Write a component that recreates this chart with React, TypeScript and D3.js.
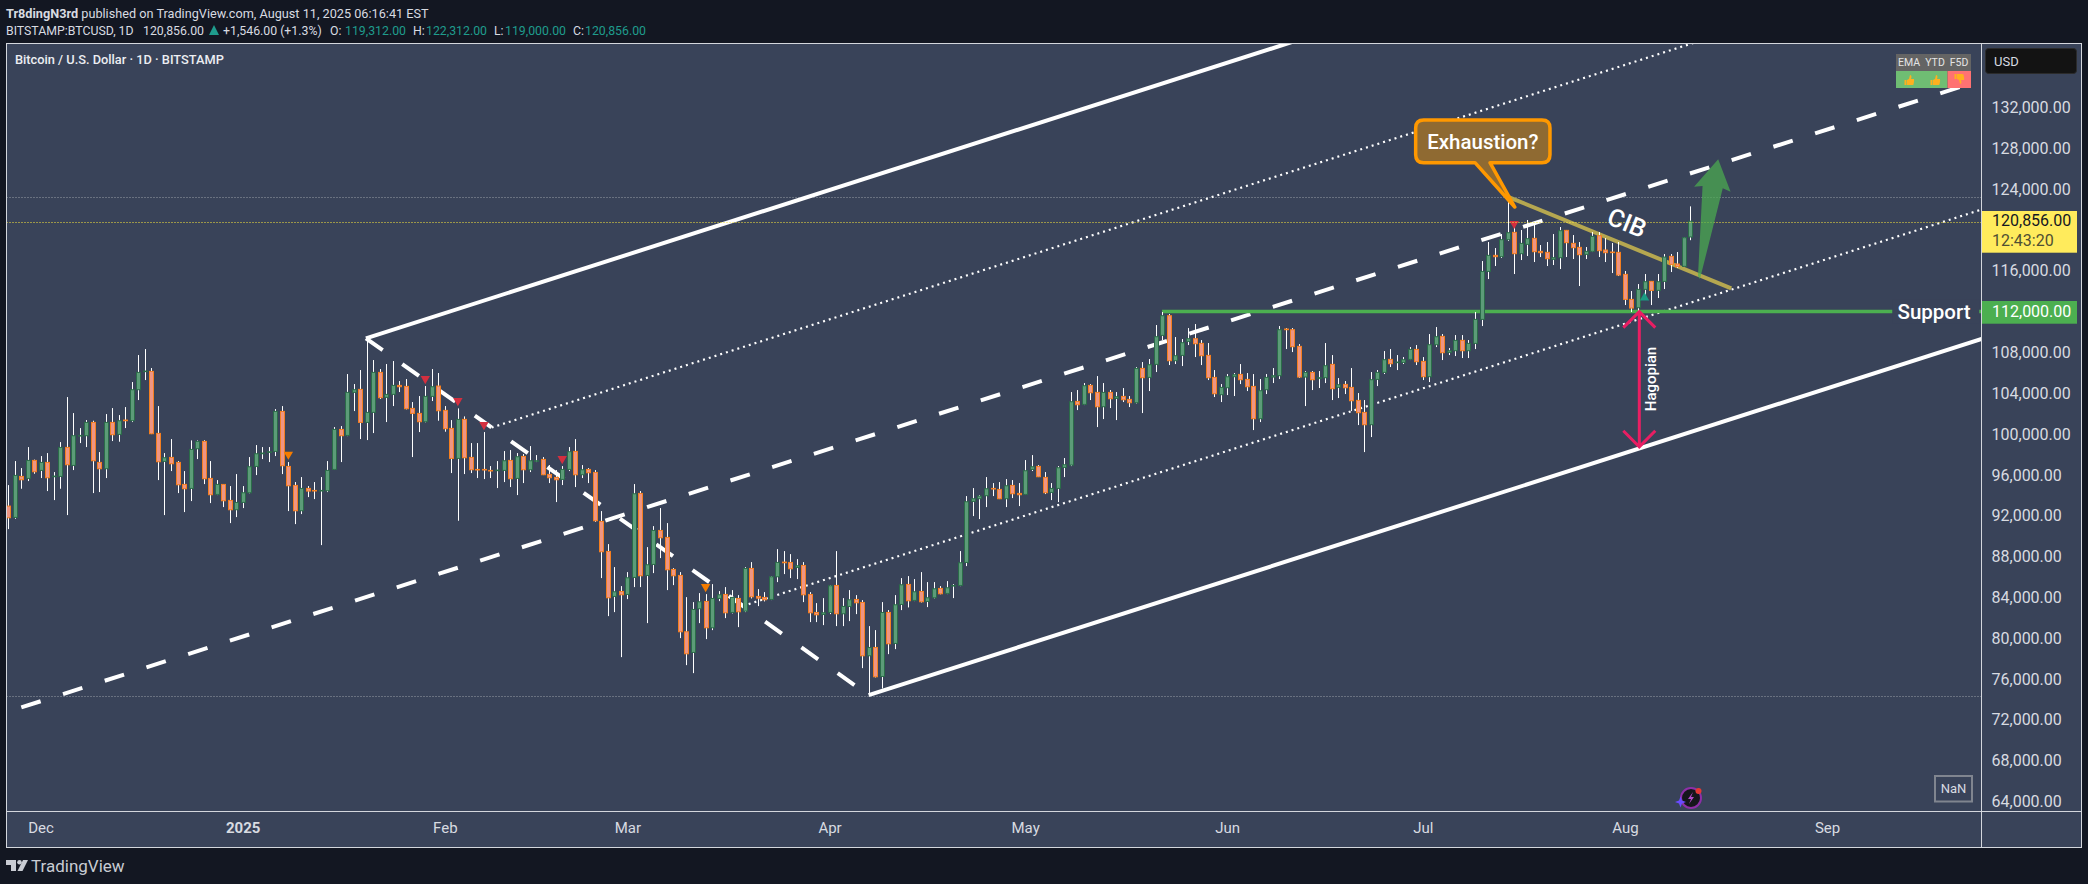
import { useEffect, useRef } from "react";
import * as d3 from "d3";

// daily candles, index 0 = Nov 26 2024, index 258 = Aug 11 2025
const opens = [
  92945,91835,95853,95657,97421,96441,97225,95820,95853,98695,
  96931,99806,99839,101145,97225,96604,101145,99970,101374,101309,
  104347,106144,106144,100067,97323,97715,97225,95069,94677,98564,
  99283,95657,94089,95069,93501,92586,93305,94252,96833,98074,
  98205,98303,102223,96833,94971,92488,94677,94481,94448,94448,
  96539,100459,99871,104086,104380,101145,102126,106046,103596,103890,
  104772,104674,102518,102028,101211,103694,104707,102322,100557,97617,
  101440,97715,96539,96539,96441,96441,96441,97421,95657,97813,
  96506,97356,97519,96049,95755,95559,96539,98303,96017,96539,
  96245,91443,88502,84092,84582,84288,85954,94187,86150,87228,
  90560,89875,86738,86150,80629,78604,82883,83602,81021,83896,
  84288,82524,83896,82654,86836,84092,83994,83798,86019,87457,
  87424,86934,87130,84288,82524,82328,82524,85170,82393,83112,
  83798,83504,78277,79094,76251,82524,79486,83308,85269,83701,
  84582,83602,83962,84877,84387,85138,85170,87425,93403,93665,
  93959,94677,94579,93665,94971,94187,94090,96540,96834,95756,
  94285,94677,96736,96963,103203,102909,104771,104085,102680,104085,
  103497,103693,103399,103072,106437,105555,106830,109672,111599,107189,
  107712,109084,109345,108888,107712,105555,103857,104543,105621,105849,
  105359,104673,101504,104347,105588,105719,110293,110227,108594,105588,
  106045,105490,105523,106830,104575,104869,104575,103301,102125,100917,
  105359,106045,107320,107025,107025,107320,108299,107123,105621,108757,
  109574,108006,108169,109182,108169,108886,111239,115943,117512,117381,
  119047,119766,117675,118590,119178,117904,117806,117120,117283,119962,
  118688,118296,117610,117904,119439,118034,117838,117806,115650,113199,
  112383,114179,114963,114081,114963,117414,116662,116434,119312,
];
const highs = [
  95003,97356,96670,98728,97500,97846,98140,96278,99218,103628,
  102060,100590,101374,101309,98238,101962,102550,101864,102648,105099,
  107745,108333,106471,102746,98140,99512,97356,96375,99381,99381,
  99400,97356,95493,95100,94906,96081,94906,97748,98924,98728,
  98728,102452,102746,97258,95298,95788,94906,95298,95788,97356,
  100688,100786,105883,104902,106275,109215,107255,106373,106863,107157,
  105197,105392,103138,103726,104707,106373,105981,102746,101374,102518,
  101734,99120,99120,100198,96866,97356,98336,98434,98140,98042,
  98826,97944,97748,96964,96474,96866,98728,99512,96964,96670,
  96474,92456,89221,86967,85105,86477,95102,94416,88927,90985,
  92749,91280,86869,86477,84026,83536,84419,84320,85300,84615,
  85007,84713,84222,86967,87457,84811,84516,86085,88731,88535,
  88241,87751,87457,84516,83439,83929,85203,88535,83929,84713,
  84222,83733,81185,80793,83537,82753,84223,85889,86085,85791,
  86477,85497,85497,85105,85595,85301,88536,93926,94710,94024,
  95788,95200,95298,95592,95494,95200,97454,97944,96964,96278,
  95200,96866,97651,104118,104314,105000,104902,105686,105000,104314,
  104118,104510,103726,106568,107058,107352,110685,111959,111763,109508,
  109312,110391,110783,109214,108920,106274,104902,105882,105980,106862,
  105980,105882,105392,105882,106470,110586,110390,110390,108822,106176,
  106176,106176,108920,107744,105490,105196,106470,104020,103334,106078,
  106274,108136,108332,107744,107548,108528,108724,107548,109802,110488,
  109802,108430,109704,109704,109214,111958,116956,118819,118230,119602,
  123196,120583,119995,120975,120681,118524,118818,119602,120289,120000,
  119504,118819,118328,119798,119798,119210,118720,118819,115976,114016,
  114702,115682,114996,115682,117642,117642,117838,119276,122312,
];
const lows = [
  90691,91700,94644,95396,96114,95690,94416,93534,94644,92064,
  96474,99120,98728,94219,94317,95690,99316,99251,100590,101178,
  103334,105295,100000,95493,92064,96375,94219,92357,93436,97552,
  95101,93239,94023,92847,91279,91867,92749,94200,95984,97552,
  97258,97846,96081,92455,91181,92161,93828,93631,89123,94317,
  96500,97258,99800,102256,99512,99414,100100,103432,101178,102746,
  104118,102420,97748,100198,101150,103237,101309,100231,96180,91508,
  96082,96180,95690,95592,95690,94710,95298,94808,94024,95200,
  96278,97258,95984,95200,93338,95004,96376,94808,95690,95200,
  91400,85889,82165,82556,78146,83831,85007,85007,81478,86379,
  87849,84713,85202,80008,77362,76578,81478,79910,80792,83634,
  81968,82426,81087,82556,83896,83144,83602,83733,85497,86281,
  85889,85791,83536,81576,81576,81282,82360,81184,81184,81674,
  82360,77068,74422,76153,75075,78440,78931,82753,83014,83635,
  83500,83047,83900,84300,84321,83929,85100,87065,91966,91672,
  92848,93926,93632,92848,93730,92946,94057,96376,95788,94122,
  93534,93338,95788,96865,102354,102844,103334,100687,101471,102550,
  101374,103138,102648,103000,102060,104216,106078,109214,106764,106862,
  106666,108724,107548,106764,105294,103628,103138,103824,103726,104902,
  104216,100394,101178,103922,105000,105392,108332,108038,105500,102746,
  104314,104510,105000,103334,103530,103922,102256,100884,98237,99708,
  104706,105882,106568,106274,106862,107254,106764,105294,105098,108528,
  107254,107744,107646,107450,107450,108331,110586,115192,116466,117250,
  118916,115682,117054,117446,116858,117348,116466,116564,116172,117348,
  117152,114506,117152,117838,117348,116858,115780,115486,112644,111958,
  111958,113624,112644,113330,114212,115878,116270,116401,119000,
];
const closes = [
  91802,95951,95526,97421,96310,97225,95722,95886,98695,96996,
  99839,99871,101145,97388,96604,101145,99937,101309,101309,104347,
  106046,106177,100035,97290,97683,97094,95036,94644,98499,99283,
  95625,94056,95069,93468,92586,93305,94252,96800,98074,98140,
  98270,102223,96898,94938,92488,94677,94416,94448,94481,96441,
  100459,99839,104086,104347,101145,102126,106046,103563,103890,104772,
  104641,102485,102028,101211,103694,104641,102289,100525,97617,101440,
  97683,96506,96506,96506,96408,96474,97389,95624,97781,96506,
  97389,97389,96017,95723,95526,96539,98271,96017,96506,96212,
  91508,88470,83962,84549,84255,85921,94154,86118,87196,90560,
  89842,86706,86118,80629,78473,82818,83569,81021,83896,84255,
  82491,83994,82589,86836,84059,83928,83765,86019,87424,87392,
  86803,87097,84255,82491,82295,82491,85137,82393,83112,83765,
  83471,78276,79094,76219,82524,79454,83275,85236,83668,84550,
  83570,83962,84844,84354,84942,85170,87392,93371,93665,93926,
  94645,94645,93665,94939,94155,94057,96409,96801,95821,94253,
  94677,96703,96997,103170,102877,104738,104053,102680,104085,103464,
  103661,103366,103072,106437,105523,106797,109541,111599,107189,107679,
  108953,109345,108855,107679,105523,103954,104575,105621,105817,105327,
  104640,101504,104249,105555,105719,110227,110227,108561,105588,106045,
  105327,105523,106699,104445,104837,104542,103268,102093,100917,105327,
  106045,107287,106895,107058,107287,108299,107091,105621,108757,109541,
  107973,108169,109182,108169,108888,111239,115943,117512,117381,119047,
  119733,117675,118688,119145,117871,117773,117185,117283,119929,118753,
  118263,117577,117904,119374,117969,117773,117806,115584,113199,112350,
  114179,114931,114081,114931,117348,116629,116401,119243,120856,
];

// 120,000 and 112,000 sit under the price badges, so they get no tick of their own
const priceTicks = [132000,128000,124000,116000,108000,104000,100000,96000,92000,88000,84000,80000,76000,72000,68000,64000];
const monthIdx = [5, 36, 67, 95, 126, 156, 187, 217, 248, 279];
const monthLabels = ["Dec", "2025", "Feb", "Mar", "Apr", "May", "Jun", "Jul", "Aug", "Sep"];

// chart drawings, [candle index, price]
const forkTop: [number, number] = [54.9, 109382];
const forkBottom: [number, number] = [132, 74425];
const cibLine: [number, number][] = [[230.26, 123200], [264.3, 114282]];
const supportLine: [number, number][] = [[177, 112000], [302.8, 112000]];
const hagopian: [number, number][] = [[250.2, 112000], [250.2, 98757]];
const greenArrow: [number, number][] = [
  [259.2, 115487], [259.9, 124307], [258.6, 124238], [262.3, 126924],
  [264.2, 123748], [263.0, 124081], [259.5, 115193],
];
const calloutBox: [number, number][] = [[215.9, 130775], [236.5, 126591]];
const calloutTail: [number, number][] = [[225, 126591], [231.1, 122249], [227.3, 126591]];
const redMarks: [number, number][] = [[64, 105422], [69, 103266], [73, 100915], [85, 97583], [231, 120613]];
const orangeMarks: [number, number][] = [[43, 98014], [107, 85039]];
const tealMarks: [number, number][] = [[251, 113361]];

const lastPrice = 120856;
const highLine = 123200;
const lowLine = 74360;
const supportPrice = 112000;

const W = 2088;
const H = 884;
const plot = { left: 6.5, top: 43.5, right: 1981.5, bottom: 811.5, outerRight: 2081.5, outerBottom: 847.5 };
const FONT = "Roboto, 'Noto Sans', sans-serif";
const BG = "#394359";
const PAGE = "#131722";
const TEXT = "#d8dbe1";

export default function App() {
  const ref = useRef<SVGSVGElement | null>(null);

  useEffect(() => {
    if (!ref.current) return;
    const svg = d3.select(ref.current);
    svg.selectAll("*").remove();

    const x = d3.scaleLinear().domain([0, 258]).range([8, 8 + 6.52 * 258]);
    const y = d3.scaleLinear().domain([64000, 132000]).range([801.5, 107.5]);
    const pt = (p: [number, number]): [number, number] => [x(p[0]), y(p[1])];
    const slope = 0.32;

    // panel
    svg.append("rect").attr("width", W).attr("height", H).attr("fill", PAGE);
    svg
      .append("rect")
      .attr("x", plot.left)
      .attr("y", plot.top)
      .attr("width", plot.outerRight - plot.left)
      .attr("height", plot.outerBottom - plot.top)
      .attr("fill", BG)
      .attr("stroke", "#d4d7dd");
    svg.append("line").attr("x1", plot.right).attr("x2", plot.right).attr("y1", plot.top).attr("y2", plot.outerBottom).attr("stroke", "#d4d7dd");
    svg.append("line").attr("x1", plot.left).attr("x2", plot.outerRight).attr("y1", plot.bottom).attr("y2", plot.bottom).attr("stroke", "#d4d7dd");

    svg
      .append("clipPath")
      .attr("id", "plot-clip")
      .append("rect")
      .attr("x", plot.left + 0.5)
      .attr("y", plot.top + 0.5)
      .attr("width", plot.right - plot.left - 1)
      .attr("height", plot.bottom - plot.top - 1);

    const g = svg.append("g").attr("clip-path", "url(#plot-clip)");

    // horizontal price lines
    const hline = (price: number, color: string, nudge = 0) =>
      g
        .append("line")
        .attr("x1", plot.left)
        .attr("x2", plot.right)
        .attr("y1", Math.round(y(price)) + 0.5 + nudge)
        .attr("y2", Math.round(y(price)) + 0.5 + nudge)
        .attr("stroke", color)
        .attr("stroke-dasharray", "1 2");
    hline(highLine, "#9aa0a8");
    hline(lowLine, "#9aa0a8");

    // pitchfork
    const [tx, ty] = pt(forkTop);
    const [bx, by] = pt(forkBottom);
    const mx = (tx + bx) / 2;
    const my = (ty + by) / 2;
    const seg = (x1: number, y1: number, x2: number, y2: number, width: number, dash?: string) =>
      g
        .append("line")
        .attr("x1", x1)
        .attr("y1", y1)
        .attr("x2", x2)
        .attr("y2", y2)
        .attr("stroke", "#ffffff")
        .attr("stroke-width", width)
        .attr("stroke-dasharray", dash ?? null);
    const ray = (x0: number, y0: number, width: number, dash?: string) => {
      const xEnd = plot.right + 20;
      return seg(x0, y0, xEnd, y0 - (xEnd - x0) * slope, width, dash);
    };
    ray(tx, ty, 4);
    ray(bx, by, 4);
    ray((tx + mx) / 2, (ty + my) / 2, 2.2, "2 4");
    ray((bx + mx) / 2, (by + my) / 2, 2.2, "2 4");
    seg(21.3, my + (mx - 21.3) * slope, plot.right + 20, my - (plot.right + 20 - mx) * slope, 4, "20.3 23.5");
    seg(tx, ty, bx, by, 4, "20.5 24");

    // support and CIB
    const linePath = d3.line<[number, number]>().x((d) => x(d[0])).y((d) => y(d[1]));
    g.append("path").attr("d", linePath(supportLine)).attr("stroke", "#4caf50").attr("stroke-width", 3.5).attr("fill", "none");
    g.append("path").attr("d", linePath(cibLine)).attr("stroke", "#b5a750").attr("stroke-width", 4).attr("fill", "none");

    // candles
    const candles = opens.map((o, i) => ({ i, o, h: highs[i], l: lows[i], c: closes[i] }));
    const cx = (i: number) => Math.round(x(i)) + 0.5;
    g.append("g")
      .selectAll("line")
      .data(candles)
      .join("line")
      .attr("x1", (d) => cx(d.i))
      .attr("x2", (d) => cx(d.i))
      .attr("y1", (d) => y(d.h))
      .attr("y2", (d) => y(d.l))
      .attr("stroke", "#ffffff");
    g.append("g")
      .selectAll("rect")
      .data(candles)
      .join("rect")
      .attr("x", (d) => cx(d.i) - 2)
      .attr("width", 4)
      .attr("y", (d) => y(Math.max(d.o, d.c)))
      .attr("height", (d) => Math.max(0.6, Math.abs(y(d.o) - y(d.c))))
      .attr("fill", (d) => (d.c >= d.o ? "#5c9c78" : "#ee9583"))
      .attr("stroke", (d) => (d.c >= d.o ? "#2b6b49" : "#f57f20"))
      .attr("stroke-width", 1);

    // event markers
    const tri = d3.symbol().type(d3.symbolTriangle).size(38);
    const marks = (pts: [number, number][], color: string, rot: number) =>
      g
        .append("g")
        .selectAll("path")
        .data(pts)
        .join("path")
        .attr("d", tri())
        .attr("transform", (d) => `translate(${x(d[0])},${y(d[1])}) rotate(${rot})`)
        .attr("fill", color);
    marks(redMarks, "#d32f3f", 180);
    marks(orangeMarks, "#f57c00", 180);
    marks(tealMarks, "#1b9a83", 0);

    hline(lastPrice, "#ffeb3b", 1);

    // support label sits on the line with a panel coloured background
    svg.append("rect").attr("x", x(302.8) - 90).attr("y", y(supportPrice) - 12).attr("width", 87).attr("height", 24).attr("fill", BG);
    svg
      .append("text")
      .attr("x", 1934)
      .attr("y", y(supportPrice))
      .attr("dy", "0.35em")
      .attr("text-anchor", "middle")
      .attr("font-family", FONT)
      .attr("font-size", 20.5)
      .attr("font-weight", 500)
      .attr("fill", "#ffffff")
      .text("Support");

    // CIB label
    svg
      .append("text")
      .attr("transform", "translate(1627,222.7) rotate(22.3)")
      .attr("dy", "0.35em")
      .attr("text-anchor", "middle")
      .attr("font-family", FONT)
      .attr("font-size", 25)
      .attr("font-weight", 500)
      .attr("fill", "#ffffff")
      .text("CIB");

    // green arrow
    svg
      .append("polygon")
      .attr("points", greenArrow.map((d) => pt(d).join(",")).join(" "))
      .attr("fill", "#4caf50")
      .attr("fill-opacity", 0.7);

    // Hagopian arrow
    const [hx, hy1] = pt(hagopian[0]);
    const [, hy2] = pt(hagopian[1]);
    svg
      .append("path")
      .attr("d", `M${hx},${hy1}V${hy2}M${hx - 16},${hy1 + 16}L${hx},${hy1}L${hx + 16},${hy1 + 16}M${hx - 16},${hy2 - 16}L${hx},${hy2}L${hx + 16},${hy2 - 16}`)
      .attr("stroke", "#e91e63")
      .attr("stroke-width", 3)
      .attr("fill", "none");
    svg
      .append("text")
      .attr("transform", `translate(${hx + 11},379) rotate(-90)`)
      .attr("dy", "0.35em")
      .attr("text-anchor", "middle")
      .attr("font-family", FONT)
      .attr("font-size", 15)
      .attr("font-weight", 500)
      .attr("fill", "#ffffff")
      .text("Hagopian");

    // callout
    const [bx0, by0] = pt(calloutBox[0]);
    const [bx1, by1] = pt(calloutBox[1]);
    const r = 8;
    const [t0x] = pt(calloutTail[0]);
    const [tipX, tipY] = pt(calloutTail[1]);
    const [t1x] = pt(calloutTail[2]);
    svg
      .append("path")
      .attr(
        "d",
        `M${bx0 + r},${by0}H${bx1 - r}Q${bx1},${by0} ${bx1},${by0 + r}V${by1 - r}Q${bx1},${by1} ${bx1 - r},${by1}H${t1x}L${tipX},${tipY}L${t0x},${by1}H${bx0 + r}Q${bx0},${by1} ${bx0},${by1 - r}V${by0 + r}Q${bx0},${by0} ${bx0 + r},${by0}Z`
      )
      .attr("fill", "#8f6a32")
      .attr("stroke", "#ff9800")
      .attr("stroke-width", 3.5)
      .attr("stroke-linejoin", "round");
    svg
      .append("text")
      .attr("x", (bx0 + bx1) / 2)
      .attr("y", (by0 + by1) / 2)
      .attr("dy", "0.35em")
      .attr("text-anchor", "middle")
      .attr("font-family", FONT)
      .attr("font-size", 20.5)
      .attr("font-weight", 500)
      .attr("fill", "#ffffff")
      .text("Exhaustion?");

    // axes
    const yAxis = svg
      .append("g")
      .attr("transform", `translate(${plot.right},0)`)
      .call(d3.axisRight(y).tickValues(priceTicks).tickSize(0).tickPadding(10).tickFormat(d3.format(",.2f") as any));
    yAxis.select(".domain").remove();
    yAxis.selectAll("text").attr("font-family", FONT).attr("font-size", 16).attr("fill", TEXT);

    const xAxis = svg
      .append("g")
      .attr("transform", `translate(0,${plot.bottom})`)
      .call(
        d3
          .axisBottom(x)
          .tickValues(monthIdx)
          .tickSize(0)
          .tickPadding(11)
          .tickFormat((_, k) => monthLabels[k])
      );
    xAxis.select(".domain").remove();
    xAxis
      .selectAll("text")
      .attr("font-family", FONT)
      .attr("font-size", 15)
      .attr("fill", TEXT)
      .attr("font-weight", (_, k) => (k === 1 ? 700 : 400));

    // price badges
    const badge = (y0: number, h: number, fill: string) =>
      svg.append("rect").attr("x", plot.right + 0.5).attr("y", y0).attr("width", 95).attr("height", h).attr("fill", fill);
    const badgeText = (cy: number, s: string, fill: string) =>
      svg
        .append("text")
        .attr("x", 1992)
        .attr("y", cy)
        .attr("dy", "0.35em")
        .attr("font-family", FONT)
        .attr("font-size", 16)
        .attr("fill", fill)
        .text(s);
    badge(211, 41.7, "#ffeb5c");
    badgeText(220.5, d3.format(",.2f")(lastPrice), "#131722");
    badgeText(240, "12:43:20", "#4f4f33");
    badge(301, 22.7, "#4caf50");
    badgeText(311.5, d3.format(",.2f")(supportPrice), "#ffffff");

    // currency box
    svg.append("rect").attr("x", 1985.5).attr("y", 48.5).attr("width", 91).attr("height", 25).attr("rx", 3).attr("fill", "#131313").attr("stroke", "#2b2b2b");
    svg.append("text").attr("x", 1994).attr("y", 61).attr("dy", "0.35em").attr("font-family", FONT).attr("font-size", 13).attr("fill", TEXT).text("USD");

    // mini table
    svg.append("rect").attr("x", 1896).attr("y", 54).attr("width", 75).attr("height", 17).attr("fill", "#646464");
    svg.append("rect").attr("x", 1896).attr("y", 71).attr("width", 51.5).attr("height", 17).attr("fill", "#6fbd73");
    svg.append("rect").attr("x", 1947.5).attr("y", 71).attr("width", 23.5).attr("height", 17).attr("fill", "#ff7272");
    const tableCols = ["EMA", "YTD", "F5D"];
    const tableX = [1909, 1935, 1959];
    tableCols.forEach((s, k) => {
      svg
        .append("text")
        .attr("x", tableX[k])
        .attr("y", 62.5)
        .attr("dy", "0.35em")
        .attr("text-anchor", "middle")
        .attr("font-family", FONT)
        .attr("font-size", 10.5)
        .attr("fill", "#e4e4e4")
        .text(s);
      svg
        .append("path")
        .attr("d", "M-4.5,0h2v5h-2zM-2,0L0,-1L1,-5Q2.5,-5 2.5,-3L2,-1H5Q5.5,1 4.5,4.5Q4,5 3,5H-2z")
        .attr("transform", `translate(${tableX[k]},${k === 2 ? 79 : 80}) scale(1,${k === 2 ? -1 : 1})`)
        .attr("fill", "#ffb01f");
    });

    // NaN box
    svg.append("rect").attr("x", 1935).attr("y", 776).attr("width", 37).attr("height", 25.5).attr("fill", "none").attr("stroke", "#80858f").attr("stroke-width", 2);
    svg.append("text").attr("x", 1953.5).attr("y", 788.5).attr("dy", "0.35em").attr("text-anchor", "middle").attr("font-family", FONT).attr("font-size", 13).attr("fill", TEXT).text("NaN");

    // flash icon
    const icon = svg.append("g").attr("transform", "translate(1691,798)");
    icon.append("circle").attr("r", 10).attr("fill", "#16161c").attr("stroke", "#8e2fa8").attr("stroke-width", 2);
    icon.append("path").attr("d", "M2,-6L-3,1H0L-2,6L3,-1H0Z").attr("fill", "#b04ac8");
    icon.append("circle").attr("cx", 7.5).attr("cy", -7).attr("r", 3).attr("fill", "#e53935");
    icon.append("path").attr("d", "M-10.5,-1.5L-9,2.5L-5,4L-9,5.5L-10.5,9.5L-12,5.5L-16,4L-12,2.5Z").attr("fill", "#6a4cff");

    // header
    const header = svg.append("g").attr("font-family", FONT).attr("fill", TEXT);
    const h1 = header.append("text").attr("x", 6).attr("y", 17.5).attr("font-size", 12.7);
    h1.append("tspan").attr("font-weight", 700).text("Tr8dingN3rd");
    h1.append("tspan").text(" published on TradingView.com, August 11, 2025 06:16:41 EST");
    const row2: [number, string, string][] = [
      [6, "BITSTAMP:BTCUSD, 1D", TEXT],
      [143, "120,856.00", TEXT],
      [223, "+1,546.00 (+1.3%)", TEXT],
      [330, "O:", TEXT],
      [345, "119,312.00", "#1f9c8d"],
      [413, "H:", TEXT],
      [426, "122,312.00", "#1f9c8d"],
      [494, "L:", TEXT],
      [505, "119,000.00", "#1f9c8d"],
      [573, "C:", TEXT],
      [585, "120,856.00", "#1f9c8d"],
    ];
    row2.forEach(([px, s, fill]) => header.append("text").attr("x", px).attr("y", 34.5).attr("font-size", 12.3).attr("fill", fill).text(s));
    svg.append("path").attr("d", "M209,35L214,25L219,35Z").attr("fill", "#1f9c8d");
    svg.append("text").attr("x", 15).attr("y", 60).attr("dy", "0.35em").attr("font-family", FONT).attr("font-size", 12.8).attr("font-weight", 500).attr("fill", "#eceef2").text("Bitcoin / U.S. Dollar · 1D · BITSTAMP");

    // footer logo
    const foot = svg.append("g").attr("fill", "#c9ccd3");
    foot.append("path").attr("d", "M6,860H16V871H11V865H6Z");
    foot.append("circle").attr("cx", 19.5).attr("cy", 862.3).attr("r", 2.3);
    foot.append("path").attr("d", "M23,860H28L22.5,871H17.5Z");
    foot.append("text").attr("x", 31).attr("y", 866).attr("dy", "0.35em").attr("font-family", FONT).attr("font-size", 17).text("TradingView");
  }, []);

  return <svg ref={ref} width={W} height={H} style={{ position: "absolute", left: 0, top: 0 }} />;
}
